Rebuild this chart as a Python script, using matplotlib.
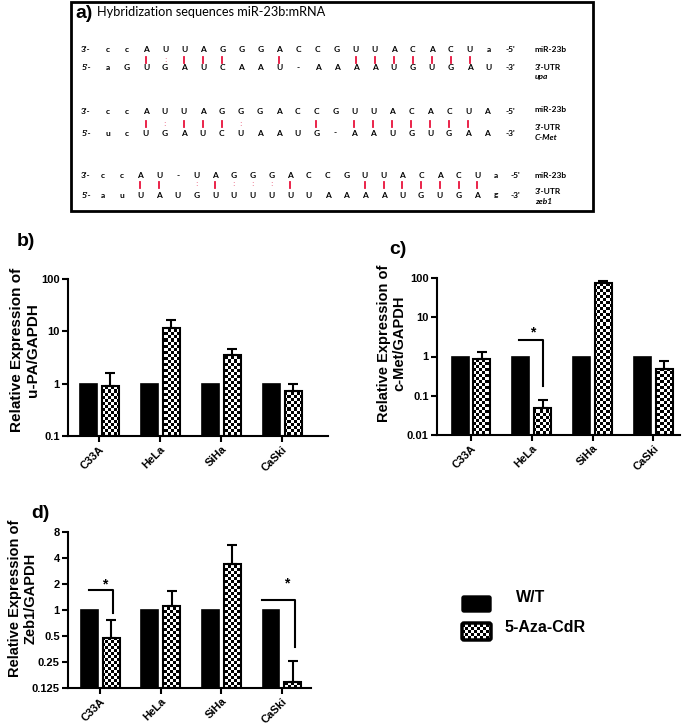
import numpy as np
import matplotlib.pyplot as plt
import matplotlib.image as mimage
from matplotlib.patches import Rectangle, FancyBboxPatch
from matplotlib.ticker import NullLocator, FixedLocator, FixedFormatter

plt.rcParams['font.family'] = ['Liberation Sans', 'DejaVu Sans']

W, H = 685, 726

# ---- data ----
cells = ['C33A', 'HeLa', 'SiHa', 'CaSki']
wt = [1, 1, 1, 1]
upa_aza = [0.92, 11.8, 3.6, 0.73]
upa_err = [0.70, 4.9, 1.05, 0.24]
cmet_aza = [0.84, 0.05, 76, 0.47]
cmet_err = [0.50, 0.026, 8, 0.32]
zeb1_aza = [0.47, 1.11, 3.4, 0.146]
zeb1_err = [0.30, 0.55, 2.25, 0.11]

# hybridization rows: miRNA (3'->5'), UTR (5'->3'), pairing marks
mir_rows = ['ccAUUAGGGACCGUUACACUa', 'ccAUUAGGGACCGUUACACUA', 'ccAU-UAGGGACCGUUACACUa']
utr_rows = ['aGUGAUCAAU-AAAAUGUGAU', 'ucUGAUCUAAUG-AAUGUGAA', 'auUAUGUUUUUUAAAAUGUGAg']
pair_rows = ['  |:|||  |   ||||||| ', '  |:|||:   | ||||||| ', '  || :|:::|   ||||||| ']
utr_genes = ['upa', 'C-Met', 'zeb1']

fig = plt.figure(figsize=(6.85, 7.26), dpi=100)

# overlay axes in pixel coordinates for panel a, labels and legend
ov = fig.add_axes([0, 0, 1, 1])
ov.set_xlim(0, W)
ov.set_ylim(H, 0)
ov.axis('off')


def checker(h, w, n=3):
    i, j = np.indices((int(h), int(w)))
    return ((i // n + j // n) % 2).astype(float)


# ---- panel a ----
ov.add_patch(Rectangle((71, 1.5), 522, 209.5, fill=False, lw=2, ec='black'))
ov.text(75, 13, 'a)', fontsize=14, fontweight='bold', va='center')
ov.text(97, 12, 'Hybridization sequences miR-23b:mRNA', fontsize=9.2, family='Lato', va='center')

row_y = [(50, 60, 68), (112, 124, 133), (176, 185, 195)]
row_x = [(108, 489), (108, 487), (103, 496)]
lab_y = [(49, 67, 77), (110, 128, 137), (175, 192, 202)]
end_x = [510, 510, 515]
seqfont = dict(fontsize=6, fontweight='bold', family='Lato', ha='center', va='center')
for r in range(3):
    y3, ym, y5 = row_y[r]
    n = len(mir_rows[r])
    xs = np.linspace(row_x[r][0], row_x[r][1], n)
    ov.text(86, y3, "3'-", **seqfont)
    ov.text(86, y5, "5'-", **seqfont)
    ov.text(end_x[r], y3, "-5'", **seqfont)
    ov.text(end_x[r], y5, "-3'", **seqfont)
    for k in range(n):
        ov.text(xs[k], y3, mir_rows[r][k], **seqfont)
        ov.text(xs[k], y5, utr_rows[r][k], **seqfont)
        p = pair_rows[r][k]
        if p == '|':
            ov.plot([xs[k], xs[k]], [ym - 3.5, ym + 3], color='#e8123c', lw=1.3)
        elif p == ':':
            ov.text(xs[k], ym, ':', color='#ee7f95', fontsize=6, fontweight='bold',
                    ha='center', va='center')
    ov.text(535, lab_y[r][0], 'miR-23b', fontsize=6, fontweight='bold', family='Lato', va='center')
    ov.text(535, lab_y[r][1], "3'-UTR", fontsize=6, fontweight='bold', family='Lato', va='center')
    ov.text(535, lab_y[r][2], utr_genes[r], fontsize=6, fontweight='bold', style='italic',
            family='Lato', va='center')


# ---- bar panels ----
def px_rect(x0, x1, ytop, ybot):
    return [x0 / W, 1 - ybot / H, (x1 - x0) / W, (ybot - ytop) / H]


def bar_panel(rect, aza, err, ticks, ticklabels, base, xlim):
    ax = fig.add_axes(rect)
    ax.set_yscale('log', base=base)
    x = np.arange(len(cells))
    ylo = ticks[0]
    bw, off = 0.28, 0.18
    ax.bar(x - off, np.array(wt) - ylo, bottom=ylo, width=bw, color='black',
           edgecolor='black', lw=1.2, zorder=2)
    bars = ax.bar(x + off, np.array(aza) - ylo, bottom=ylo, width=bw, facecolor='none',
                  edgecolor='black', lw=1.5, zorder=2.2)
    hpx, wpx = rect[3] * H, rect[2] * W
    for b in bars:
        im = mimage.AxesImage(ax, cmap='gray', interpolation='nearest',
                              extent=(0, 1, 0, 1), transform=ax.transAxes, zorder=2.1)
        im.set_data(checker(hpx, wpx))
        im.set_clim(0, 1)
        im.set_clip_path(b)
        ax.add_image(im)
    ax.errorbar(x + off, aza, yerr=[np.zeros(len(aza)), err], fmt='none', ecolor='black',
                elinewidth=1.5, capsize=3.5, capthick=1.5, zorder=3)
    ax.set_xlim(*xlim)
    ax.set_ylim(ticks[0], ticks[-1])
    ax.yaxis.set_major_locator(FixedLocator(ticks))
    ax.yaxis.set_major_formatter(FixedFormatter(ticklabels))
    ax.yaxis.set_minor_locator(NullLocator())
    ax.set_xticks(x)
    ax.set_xticklabels(cells, rotation=45, ha='right', rotation_mode='anchor',
                       fontsize=8, fontweight='bold')
    for t in ax.get_yticklabels():
        t.set_fontsize(8)
        t.set_fontweight('bold')
    for s in ['top', 'right']:
        ax.spines[s].set_visible(False)
    for s in ['left', 'bottom']:
        ax.spines[s].set_linewidth(1.5)
    ax.tick_params(direction='out', length=4, width=1.5, pad=2)
    ax.patch.set_alpha(0)
    return ax


ax_b = bar_panel(px_rect(68, 328, 279, 436), upa_aza, upa_err,
                 [0.1, 1, 10, 100], ['0.1', '1', '10', '100'], 10, (-0.51, 3.75))
ax_c = bar_panel(px_rect(437, 680, 278, 435), cmet_aza, cmet_err,
                 [0.01, 0.1, 1, 10, 100], ['0.01', '0.1', '1', '10', '100'], 10, (-0.56, 3.44))
ax_d = bar_panel(px_rect(68, 311, 532, 688), zeb1_aza, zeb1_err,
                 [0.125, 0.25, 0.5, 1, 2, 4, 8], ['0.125', '0.25', '0.5', '1', '2', '4', '8'],
                 2, (-0.53, 3.48))

# significance brackets
def bracket(ax, x0, x1, y, ylow, xs, ys):
    ax.plot([x0, x1, x1], [y, y, ylow], color='black', lw=1.5, zorder=4)
    ax.text(xs, ys, '*', fontsize=10, fontweight='bold', ha='center', va='center')


bracket(ax_c, 1 - 0.21, 1 + 0.18, 2.7, 0.18, 1.02, 4.2)
bracket(ax_d, -0.18, 0.21, 1.7, 0.92, 0.07, 1.95)
bracket(ax_d, 3 - 0.33, 3 + 0.21, 1.3, 0.37, 3.08, 2.05)

# panel letters and y labels
ov.text(17, 242, 'b)', fontsize=14, fontweight='bold', va='center')
ov.text(389, 249, 'c)', fontsize=14, fontweight='bold', va='center')
ov.text(31, 514, 'd)', fontsize=14, fontweight='bold', va='center')
ov.text(25, 350, 'Relative Expression of\nu-PA/GAPDH', fontsize=11, fontweight='bold',
        rotation=90, ha='center', va='center', multialignment='center', linespacing=1.1)
ov.text(392, 343, 'Relative Expression of\nc-Met/GAPDH', fontsize=10.5, fontweight='bold',
        rotation=90, ha='center', va='center', multialignment='center', linespacing=1.1)
ov.text(23, 598, 'Relative Expression of\nZeb1/GAPDH', fontsize=10.5, fontweight='bold',
        rotation=90, ha='center', va='center', multialignment='center', linespacing=1.1)

# legend
ov.add_patch(FancyBboxPatch((463, 597), 27, 14, boxstyle='round,pad=1,rounding_size=2',
                            fc='black', ec='black'))
lg = FancyBboxPatch((463, 624), 27, 15, boxstyle='round,pad=1,rounding_size=2',
                    fc='none', ec='black', lw=2.5, zorder=3)
ov.add_patch(lg)
im = mimage.AxesImage(ov, cmap='gray', interpolation='nearest', extent=(0, W, H, 0), zorder=2)
im.set_data(checker(H, W))
im.set_clim(0, 1)
im.set_clip_path(lg)
ov.add_image(im)
ov.text(516, 598, 'W/T', fontsize=11.5, fontweight='bold', va='center')
ov.text(505, 627, '5-Aza-CdR', fontsize=11.5, fontweight='bold', va='center')

fig.savefig('out.png', dpi=100)
